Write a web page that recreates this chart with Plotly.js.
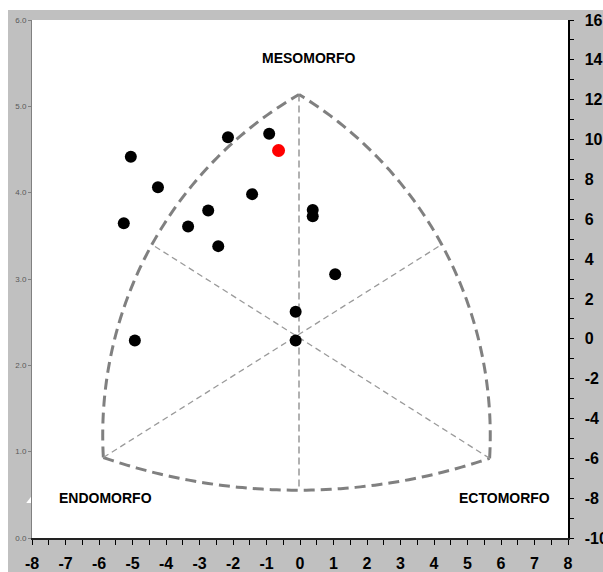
<!DOCTYPE html>
<html><head><meta charset="utf-8">
<script src="https://cdn.plot.ly/plotly-3.0.1.min.js"></script>
<style>
html,body{margin:0;padding:0;background:#ffffff;}
#chart{position:absolute;left:8px;top:10px;width:595px;height:562px;}
</style></head><body><div id="chart"></div>
<script>
// ---- data (somatotype coordinates: X = ecto - endo, Y = 2*meso - (endo + ecto)) ----
const subjectX = [-5.05, -4.24, -5.26, -4.93, -3.34, -2.74, -2.44, -2.15, -1.43, -0.92, 0.38, 0.38, 1.05, -0.13, -0.13];
const subjectY = [ 9.14,  7.61,  5.80, -0.09,  5.64,  6.44,  4.65, 10.11,  7.26, 10.29, 6.46, 6.15, 3.24,  1.36, -0.09];
const highlightX = [-0.64];
const highlightY = [9.45];
const markerArtifactX = [-8];
const markerArtifactY = [0.434];
const xTickVals = [-8,-7,-6,-5,-4,-3,-2,-1,0,1,2,3,4,5,6,7,8];
const xTickText = ['-8','-7','-6','-5','-4','-3','-2','-1','0','1','2','3','4','5','6','7','8'];
const rightTickVals = [-10,-8,-6,-4,-2,0,2,4,6,8,10,12,14,16];
const rightTickText = ['-10','-8','-6','-4','-2','0','2','4','6','8','10','12','14','16'];
const leftTickVals = [0,1,2,3,4,5,6];
const leftTickText = ['0.0','1.0','2.0','3.0','4.0','5.0','6.0'];
const regionNames = ['MESOMORFO','ENDOMORFO','ECTOMORFO'];

// ---- frame geometry of the somatochart (data units) ----
const ENDO = [-5.87, -5.96], ECTO = [5.66, -6.0], APEX = [-0.03, 12.26];
const LEFTMID = [-4.42, 4.73], RIGHTMID = [4.23, 4.73], BOTTOMMID = [0.0, -7.6];
const KX = 536/16, KY = 518/26; // px per unit, to draw circular arcs in screen space

function arcPath(p0, pm, p2, n){
  const A=[p0[0]*KX,p0[1]*KY], B=[pm[0]*KX,pm[1]*KY], C=[p2[0]*KX,p2[1]*KY];
  const s=v=>v[0]*v[0]+v[1]*v[1];
  const d = 2*(A[0]*(B[1]-C[1]) + B[0]*(C[1]-A[1]) + C[0]*(A[1]-B[1]));
  const ux = (s(A)*(B[1]-C[1]) + s(B)*(C[1]-A[1]) + s(C)*(A[1]-B[1]))/d;
  const uy = (s(A)*(C[0]-B[0]) + s(B)*(A[0]-C[0]) + s(C)*(B[0]-A[0]))/d;
  const r = Math.hypot(A[0]-ux, A[1]-uy);
  const TAU = 2*Math.PI, norm = a => ((a % TAU) + TAU) % TAU;
  const a0 = Math.atan2(A[1]-uy, A[0]-ux);
  const d2 = norm(Math.atan2(C[1]-uy, C[0]-ux) - a0);
  const dm = norm(Math.atan2(B[1]-uy, B[0]-ux) - a0);
  const sweep = dm < d2 ? d2 : d2 - TAU;
  const pts = [];
  for(let i=0;i<=n;i++){
    const a = a0 + sweep*i/n;
    pts.push(((ux + r*Math.cos(a))/KX).toFixed(4) + ',' + ((uy + r*Math.sin(a))/KY).toFixed(4));
  }
  return 'M' + pts.join('L');
}

const boldLine = {color:'#808080', width:3, dash:'11px,6px'};
const fineLine = {color:'#9a9a9a', width:1.3, dash:'6px,4px'};
const shapes = [
  {type:'path', xref:'x', yref:'y2', path: arcPath(ENDO, LEFTMID, APEX, 80), line: boldLine, layer:'below'},
  {type:'path', xref:'x', yref:'y2', path: arcPath(ECTO, RIGHTMID, APEX, 80), line: boldLine, layer:'below'},
  {type:'path', xref:'x', yref:'y2', path: arcPath(ENDO, BOTTOMMID, ECTO, 80), line: boldLine, layer:'below'},
  {type:'line', xref:'x', yref:'y2', x0:ENDO[0], y0:ENDO[1], x1:RIGHTMID[0], y1:RIGHTMID[1], line: fineLine, layer:'below'},
  {type:'line', xref:'x', yref:'y2', x0:ECTO[0], y0:ECTO[1], x1:LEFTMID[0], y1:LEFTMID[1], line: fineLine, layer:'below'},
  {type:'line', xref:'x', yref:'y2', x0:APEX[0], y0:APEX[1], x1:APEX[0], y1:BOTTOMMID[1], line: {color:'#888888', width:1.3, dash:'7px,4px'}, layer:'below'}
];

const labelFont = {family:'Liberation Sans, Arial, sans-serif', size:14, weight:'bold', color:'#000'};
const annotations = [
  {x:0.24, y:14.07, text:regionNames[0]},
  {x:-5.81, y:-7.97, text:regionNames[1]},
  {x:6.11, y:-8.0, text:regionNames[2]}
].map(a => Object.assign({xref:'x', yref:'y2', showarrow:false, font:labelFont}, a));

const traces = [
  {x: markerArtifactX, y: markerArtifactY, xaxis:'x', yaxis:'y', type:'scatter', mode:'markers', cliponaxis:false,
   marker:{color:'#ffffff', size:10, symbol:'triangle-up'}, hoverinfo:'skip'},
  {x: subjectX, y: subjectY, xaxis:'x', yaxis:'y2', type:'scatter', mode:'markers',
   marker:{color:'#000000', size:12}, hoverinfo:'x+y'},
  {x: highlightX, y: highlightY, xaxis:'x', yaxis:'y2', type:'scatter', mode:'markers',
   marker:{color:'#ff0000', size:13}, hoverinfo:'x+y'}
];

const boldTick = {family:'Liberation Sans, Arial, sans-serif', size:16, weight:'bold', color:'#000'};
const layout = {
  width:595, height:562,
  margin:{l:24, r:35, t:10, b:34, pad:0},
  paper_bgcolor:'#c0c0c0', plot_bgcolor:'#ffffff',
  showlegend:false,
  xaxis:{range:[-8,8], anchor:'y', tickmode:'array', tickvals:xTickVals, ticktext:xTickText, ticks:'outside', ticklen:5, tickwidth:1, tickcolor:'#000',
         showgrid:false, zeroline:false, showline:true, linecolor:'#222', linewidth:2, ticklabelstandoff:5,
         tickfont:boldTick, minor:{dtick:0.5, ticks:'outside', ticklen:5, tickcolor:'#000', showgrid:false}},
  yaxis:{range:[0,6], anchor:'x', side:'left', tickmode:'array', tickvals:leftTickVals, ticktext:leftTickText, ticks:'outside', ticklen:3,
         tickcolor:'#808080', showgrid:false, zeroline:false, showline:true, showticklabels:true, linecolor:'#808080', linewidth:1,
         tickfont:{family:'Liberation Sans, Arial, sans-serif', size:8, color:'#595959'}},
  yaxis2:{range:[-10,16], anchor:'x', overlaying:'y', side:'right', tickmode:'array', tickvals:rightTickVals, ticktext:rightTickText, ticks:'outside', ticklen:4,
          tickcolor:'#000', showgrid:false, zeroline:false, showline:true, linecolor:'#000', linewidth:1.5,
          tickfont:boldTick, ticklabelstandoff:8,
          minor:{dtick:1, ticks:'outside', ticklen:4, tickcolor:'#000', showgrid:false}},
  shapes: shapes,
  annotations: annotations
};

Plotly.newPlot('chart', traces, layout, {displayModeBar:false, staticPlot:true});
</script></body></html>
